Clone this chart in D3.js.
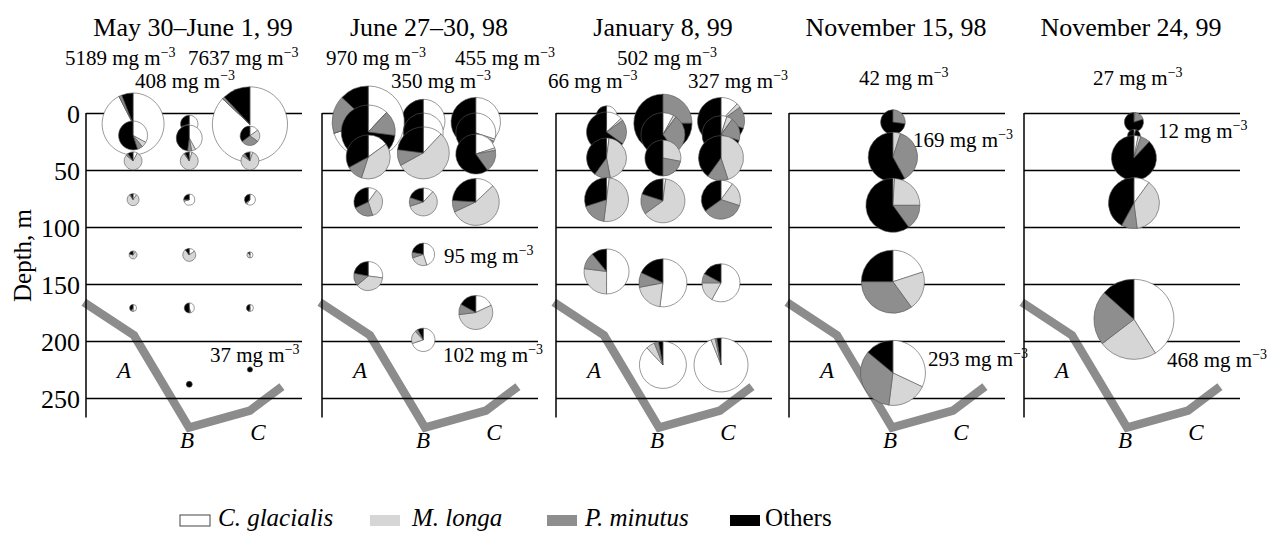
<!DOCTYPE html>
<html>
<head>
<meta charset="utf-8">
<script src="https://cdn.jsdelivr.net/npm/d3@7"></script>
<style>
  body { margin: 0; background: #fff; }
  svg text, svg tspan { font-family: "Liberation Serif", "Times New Roman", serif !important; fill: #000; }
</style>
</head>
<body>
<svg id="chart" width="1270" height="533"></svg>
<script>
// ---- data ---------------------------------------------------------------
const panelTitles = ["May 30\u2013June 1, 99", "June 27\u201330, 98", "January 8, 99", "November 15, 98", "November 24, 99"];
const speciesNames = ["C. glacialis", "M. longa", "P. minutus", "Others"];
const depthTicks = [0, 50, 100, 150, 200, 250];
const stationNames = ["A", "B", "C"];

// bottom profile along the section (distance units 0-100, depth m)
const bottomDistance = [-1, 22.2, 47.7, 75.9, 90.7];
const bottomDepth = [166, 195, 276, 261, 240];

// station positions along the section for each survey
const stationDistance1 = [21.8, 47.8, 75.9];
const stationDistance2 = [21.4, 46.9, 71.2];
const stationDistance3 = [23.4, 49.5, 76.4];
const stationDistance4 = [22.2, 48.1, 75.9];
const stationDistance5 = [22.2, 50.9, 75.9];

// samples: [station, depth m, biomass mg m^-3, % C. glacialis, % M. longa, % P. minutus, % Others]
const samples1 = [
  [0, 9.6, 5189, 92.5, 0, 1.5, 6],
  [0, 19.7, 1137, 33, 6, 6, 55],
  [0, 42, 438, 8, 78, 4, 10],
  [0, 76, 195, 10, 80, 3, 7],
  [0, 124.5, 87, 10, 70, 0, 20],
  [0, 171, 66, 50, 10, 0, 40],
  [1, 9.6, 408, 60, 5, 5, 30],
  [1, 22, 914, 42, 5, 5, 48],
  [1, 42, 438, 5, 85, 2, 8],
  [1, 76, 164, 70, 5, 0, 25],
  [1, 124.5, 228, 15, 75, 0, 10],
  [1, 171, 135, 45, 5, 0, 50],
  [1, 238, 49, 0, 0, 0, 100],
  [2, 10, 7637, 87, 0, 1, 12],
  [2, 20, 509, 15, 20, 30, 35],
  [2, 42, 438, 5, 80, 5, 10],
  [2, 76, 164, 60, 5, 0, 35],
  [2, 124.5, 49, 50, 40, 0, 10],
  [2, 171, 66, 50, 5, 0, 45],
  [2, 225, 37, 0, 0, 0, 100]
];
const samples2 = [
  [0, 8, 970, 70, 0, 17, 13],
  [0, 16.7, 542, 12, 0, 15, 73],
  [0, 38.6, 360, 15, 40, 12, 33],
  [0, 78, 152, 10, 35, 23, 32],
  [0, 143, 156, 27, 37, 14, 22],
  [1, 7, 350, 50, 0, 5, 45],
  [1, 17.5, 297, 45, 2, 8, 45],
  [1, 35, 502, 12, 55, 10, 23],
  [1, 78, 146, 12, 58, 10, 20],
  [1, 124, 95, 45, 25, 8, 22],
  [1, 199, 102, 70, 18, 4, 8],
  [2, 8, 455, 35, 2, 8, 55],
  [2, 17.5, 297, 30, 2, 8, 60],
  [2, 36, 297, 20, 2, 18, 60],
  [2, 78, 410, 13, 55, 8, 24],
  [2, 175, 215, 18, 55, 10, 17]
];
const samples3 = [
  [0, 3, 66, 35, 5, 5, 55],
  [0, 16.7, 237, 13, 2, 20, 65],
  [0, 39.5, 237, 2, 45, 13, 40],
  [0, 76, 286, 2, 50, 18, 30],
  [0, 139, 300, 50, 27, 12, 11],
  [1, 9, 502, 0, 0, 25, 75],
  [1, 19, 286, 8, 2, 30, 60],
  [1, 39.5, 192, 0, 28, 22, 50],
  [1, 77, 286, 2, 63, 15, 20],
  [1, 149, 341, 52, 20, 10, 18],
  [1, 221, 327, 88, 6, 3, 3],
  [2, 7, 327, 12, 3, 15, 70],
  [2, 19, 214, 5, 5, 20, 70],
  [2, 39.5, 300, 0, 45, 15, 40],
  [2, 76, 225, 10, 20, 35, 35],
  [2, 149, 214, 58, 17, 8, 17],
  [2, 221, 431, 94, 2.5, 1, 2.5]
];
const samples4 = [
  [1, 8, 42, 0, 0, 27, 73],
  [1, 38.6, 169, 0, 5, 37, 58],
  [1, 81, 202, 1, 24, 15, 60],
  [1, 148, 275, 20, 20, 35, 25],
  [1, 228, 293, 32, 20, 34, 14]
];
const samples5 = [
  [1, 8, 27, 2, 0, 18, 80],
  [1, 20, 12, 5, 0, 0, 95],
  [1, 39.5, 148, 3, 2, 7, 88],
  [1, 79, 190, 10, 38, 10, 42],
  [1, 181, 468, 41, 23.6, 22, 13.4]
];

// ---- layout -------------------------------------------------------------
const serif = "'Liberation Serif', 'Times New Roman', serif";
const panelLeft = [86, 322, 556, 789, 1024];
const panelWidth = 216;
const radiusPer100 = [43, 116, 130, 190, 185];   // px radius at 10 000 mg m^-3, per panel scale
const speciesFill = ["#ffffff", "#d6d6d6", "#8e8e8e", "#000000"];

// biomass label placement: [panel, sample index, x, baseline y]
const labelPlacement = [
  [0, 0, 65, 65], [0, 13, 188, 65], [0, 6, 135, 88], [0, 19, 210, 362],
  [1, 0, 326, 65], [1, 11, 455, 65], [1, 5, 391, 88], [1, 9, 444, 263], [1, 10, 443, 362],
  [2, 5, 617, 65], [2, 0, 548, 88], [2, 11, 688, 88],
  [3, 0, 859, 85], [3, 1, 913, 147], [3, 4, 928, 366],
  [4, 0, 1093, 85], [4, 1, 1158, 138], [4, 4, 1167, 367]
];

const allSamples = [samples1, samples2, samples3, samples4, samples5];
const allStations = [stationDistance1, stationDistance2, stationDistance3, stationDistance4, stationDistance5];

const svg = d3.select("#chart");
const y = d3.scaleLinear().domain([0, 250]).range([113, 398]);
const pie = d3.pie().sort(null).value(d => d);
const arc = d3.arc().innerRadius(0);

panelTitles.forEach((title, p) => {
  const left = panelLeft[p];
  const x = d3.scaleLinear().domain([0, 100]).range([left, left + panelWidth]);
  const r = d3.scaleSqrt().domain([0, 10000]).range([0, radiusPer100[p]]);
  const g = svg.append("g");

  // title
  g.append("text")
    .attr("x", left + 107).attr("y", 36)
    .attr("text-anchor", "middle")
    .style("font-family", serif)
    .style("font-size", "26px")
    .text(title);

  // bottom profile
  const line = d3.line().x((d, i) => x(bottomDistance[i])).y(d => y(d));
  g.append("path")
    .attr("d", line(bottomDepth))
    .attr("fill", "none")
    .attr("stroke", "#8c8c8c")
    .attr("stroke-width", 8.5)
    .attr("stroke-linejoin", "miter");

  // depth grid lines
  const grid = g.append("g")
    .attr("transform", `translate(${left},0)`)
    .call(d3.axisRight(y).tickValues(depthTicks).tickSize(panelWidth).tickFormat(""));
  grid.select(".domain").remove();
  grid.selectAll(".tick line").attr("stroke", "#000").attr("stroke-width", 1.5);

  // vertical axis line
  g.append("line")
    .attr("x1", left).attr("x2", left)
    .attr("y1", y(0)).attr("y2", y(267))
    .attr("stroke", "#000").attr("stroke-width", 1.5);

  // station letters
  const letterOffset = [38, 101, 172];
  const letterBase = [378, 448, 440];
  stationNames.forEach((s, i) => {
    g.append("text")
      .attr("x", left + letterOffset[i]).attr("y", letterBase[i])
      .attr("text-anchor", "middle")
      .style("font-family", serif)
      .style("font-size", "23px").style("font-style", "italic")
      .text(s);
  });

  // pies, shallow first so deeper samples lie on top
  const samples = allSamples[p].map((d, i) => ({ d, i })).sort((a, b) => a.d[1] - b.d[1]);
  samples.forEach(({ d }) => {
    const cx = x(allStations[p][d[0]]);
    const cy = y(d[1]);
    const rad = r(d[2]);
    const pg = g.append("g").attr("transform", `translate(${cx},${cy})`);
    pg.selectAll("path")
      .data(pie(d.slice(3, 7)))
      .join("path")
      .attr("d", a => arc.outerRadius(rad)(a))
      .attr("fill", (a, k) => speciesFill[k])
      .attr("stroke", "#555")
      .attr("stroke-width", 0.6);
  });
});

// depth axis labels (first panel only)
const yAxis = svg.append("g")
  .attr("transform", `translate(${panelLeft[0]},0)`)
  .call(d3.axisLeft(y).tickValues(depthTicks).tickSize(0).tickPadding(6));
yAxis.attr("font-family", serif);
yAxis.select(".domain").remove();
yAxis.selectAll("text")
  .style("font-family", serif)
  .style("font-size", "26px")
  .attr("dy", "0.36em");

svg.append("text")
  .attr("transform", `translate(31,${y(125)}) rotate(-90)`)
  .attr("text-anchor", "middle")
  .style("font-family", serif)
  .style("font-size", "25px")
  .text("Depth, m");

// biomass labels
labelPlacement.forEach(([p, s, lx, ly]) => {
  const t = svg.append("text").attr("x", lx).attr("y", ly)
    .style("font-family", serif).style("font-size", "21px");
  t.append("tspan").text(`${allSamples[p][s][2]} mg m`);
  t.append("tspan").attr("dy", -8).style("font-size", "14px").text("\u22123");
});

// legend
const legendX = [180, 370, 547, 730];
const legendTextX = [218, 412, 585, 765];
speciesNames.forEach((name, i) => {
  svg.append("rect")
    .attr("x", legendX[i]).attr("y", 515)
    .attr("width", 30).attr("height", 11)
    .attr("fill", speciesFill[i])
    .attr("stroke", i === 0 ? "#444" : "none")
    .attr("stroke-width", 1);
  svg.append("text")
    .attr("x", legendTextX[i]).attr("y", 526)
    .style("font-family", serif)
    .style("font-size", "25px")
    .style("font-style", i < 3 ? "italic" : "normal")
    .text(name);
});
</script>
</body>
</html>
